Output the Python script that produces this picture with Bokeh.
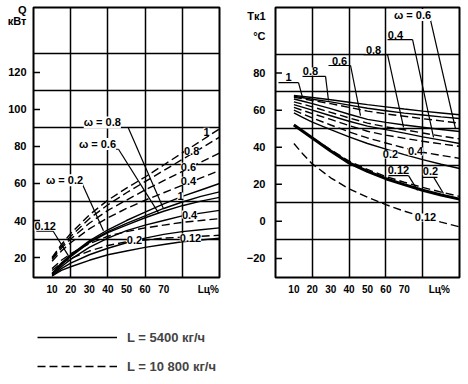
from bokeh.plotting import figure
from bokeh.models import FixedTicker, ColumnDataSource, LabelSet, Legend
from bokeh.layouts import column, row
from bokeh.core.properties import value
from bokeh.embed import file_html
from bokeh.resources import INLINE

FONT = "Liberation Sans"

# ---------------- data ----------------
L_pct = [10, 15, 20, 30, 40, 50, 60, 70, 80, 90, 100]
x_tick_vals = [10, 20, 30, 40, 50, 60, 70]

# Q, kW  (solid: L = 5400 kg/h, dashed: L = 10800 kg/h)
q_dash_1 = [20, 27, 33, 43, 51, 57.5, 63.5, 70, 76.5, 83, 89.5]
q_dash_08 = [19.5, 26, 31.5, 41, 48.5, 55, 61, 67, 73, 79, 85]
q_dash_06 = [19, 25, 30, 38.5, 45.5, 51, 56.5, 61.5, 66.5, 71.5, 76.5]
q_dash_04 = [18, 23.5, 28, 35.5, 41.5, 46.5, 51, 55, 59, 63, 67]
q_dash_02 = [14, 18.5, 22, 27.5, 31.5, 34, 36, 37.5, 39, 40, 41]
q_dash_012 = [13, 17, 19.5, 23.5, 26.5, 28.5, 29.5, 30.5, 31, 31.5, 32]
q_sol_1 = [11.5, 17, 21.5, 29, 35, 40, 44.5, 49, 53, 56.5, 60]
q_sol_08 = [11, 16.5, 21, 28.5, 34, 38.5, 42.5, 46.5, 50, 53, 55.5]
q_sol_06 = [11, 16, 20.5, 28, 33.5, 37.5, 41.5, 45, 48, 50.5, 52.5]
q_sol_04 = [10.5, 15, 19, 25.5, 30.5, 34.5, 37.5, 40, 42.5, 44, 45.5]
q_sol_02 = [10, 14, 17, 21.5, 25, 28, 30.5, 32.5, 34, 35, 36]
q_sol_012 = [10, 13, 15, 18.5, 21.5, 23.5, 25.5, 27, 28.5, 29.5, 30.5]
q_ticks = [20, 40, 60, 80, 100, 120]
q_grid = [30, 50, 70, 90, 110, 130]
q_title = {154: "Q", 148: "кВт"}

# T_k1, deg C
t_sol_1 = [68, 67.4, 66.8, 65.6, 64.3, 63, 61.8, 60.6, 59.5, 58.5, 57.5]
t_sol_08 = [67.5, 66.7, 65.9, 64.5, 62.7, 61, 59.7, 58.4, 57.4, 56.4, 55.5]
t_sol_06 = [66, 64.8, 63.5, 60.8, 57.8, 55, 53.4, 52, 50.8, 49.6, 48.5]
t_sol_04 = [63, 61.5, 60, 57, 54, 51.4, 49.5, 47.6, 45.6, 43.8, 42]
t_sol_02 = [58.5, 56, 53.5, 49.5, 45.6, 42, 39, 36, 33.3, 30.8, 28.5]
t_sol_012 = [52, 48.5, 45, 38, 31.5, 27, 23, 19.8, 16.8, 14.2, 12]
t_dash_1 = [67, 66.1, 65.2, 63.5, 61.5, 59.5, 58, 56.7, 55.4, 54.2, 53]
t_dash_08 = [64.5, 63.2, 61.8, 58.8, 55.8, 53, 51, 49.4, 47.7, 46, 44.5]
t_dash_06 = [61.5, 59.8, 58.1, 55, 51.7, 48.6, 46.5, 44.8, 43.2, 41.8, 40.5]
t_dash_04 = [60, 57.8, 55.8, 52, 48.3, 45, 42.3, 39.6, 37.3, 35.6, 34]
t_dash_02 = [52, 48.6, 45.2, 38.6, 32.5, 28, 24.2, 21.1, 18.3, 15.8, 13.5]
t_dash_012 = [42, 36.2, 31, 23.5, 17.5, 13, 9, 5.5, 2.4, -0.4, -3]
t_ticks = [-20, 0, 20, 40, 60, 80]
t_grid = [-10, 10, 30, 50, 70, 90]
t_title = {111: "Tк1", 100: "°C"}

legend_solid = "L = 5400 кг/ч"
legend_dash = "L = 10 800 кг/ч"

DASH = "8 4"
LW = 1.4


def style(p, yticks, ygrid, titles, lpos):
    p.outline_line_color = "black"
    p.outline_line_width = 2
    p.background_fill_color = "white"
    p.border_fill_color = "white"
    p.xgrid.ticker = FixedTicker(ticks=[20, 40, 60, 80])
    p.ygrid.ticker = FixedTicker(ticks=ygrid)
    for g in (p.xgrid, p.ygrid):
        g.grid_line_color = "black"
        g.grid_line_width = 1.5
        g.grid_line_alpha = 1
    p.xaxis.ticker = FixedTicker(ticks=x_tick_vals + [lpos])
    p.xaxis.major_label_overrides = {lpos: "Lц%"}
    p.yaxis.ticker = FixedTicker(ticks=yticks + list(titles.keys()))
    p.yaxis.major_label_overrides = dict(titles)
    for ax in (p.xaxis, p.yaxis):
        ax.axis_line_color = None
        ax.minor_tick_line_color = None
        ax.major_tick_line_color = None
        ax.major_tick_in = 0
        ax.major_tick_out = 0
        ax.major_label_text_font = FONT
        ax.major_label_text_font_style = "bold"
        ax.major_label_text_color = "black"
    p.xaxis.major_label_text_font_size = "10px"
    p.xaxis.major_label_standoff = 6
    p.yaxis.major_label_text_font_size = "11px"
    # short inward tick marks at the labelled values
    n = len(yticks)
    p.segment(x0=[0] * n, y0=yticks, x1=[3.5] * n, y1=yticks,
              line_color="black", line_width=1.5)


def add_labels(p, xs, ys, texts, bg=True, size="11px"):
    src = ColumnDataSource(dict(x=xs, y=ys, t=texts))
    p.add_layout(LabelSet(x="x", y="y", text="t", source=src,
                          text_align="center", text_baseline="middle",
                          text_font=value(FONT), text_font_size=value(size),
                          text_font_style="bold", text_color="black",
                          background_fill_color="white" if bg else None))


def add_segments(p, x0, y0, x1, y1):
    p.segment(x0=x0, y0=y0, x1=x1, y1=y1, line_color="black", line_width=1.2)


# ---------------- left: Q ----------------
p1 = figure(width=238, height=304, x_range=(0, 100), y_range=(9.2, 155.1),
            output_backend="svg", toolbar_location=None,
            min_border_left=33, min_border_right=19, min_border_top=7, min_border_bottom=27)
style(p1, q_ticks, q_grid, q_title, 94)
p1.yaxis.major_label_standoff = 7

for ys in (q_sol_1, q_sol_08, q_sol_06, q_sol_04, q_sol_02, q_sol_012):
    p1.line(L_pct, ys, line_color="black", line_width=LW)
for ys in (q_dash_1, q_dash_08, q_dash_06, q_dash_04, q_dash_02, q_dash_012):
    p1.line(L_pct, ys, line_color="black", line_width=LW, line_dash=DASH)

# underlines + leaders
add_segments(p1,
             [33.3, 45.7, 14.5, 26.3, 1.5, 10.6, 51.0],
             [78.5, 78.5, 59.6, 59.6, 34.2, 34.2, 90.0],
             [45.7, 67.2, 26.3, 37.6, 10.6, 18.8, 69.9],
             [78.5, 44.1, 59.6, 34.4, 34.2, 20.9, 46.3])
add_labels(p1, [37.0, 34.4, 16.7, 6.3], [93.0, 81.4, 61.8, 36.8],
           ["ω = 0.8", "ω = 0.6", "ω = 0.2", "0.12"])
add_labels(p1, [93.0, 85.0, 83.3, 83.3, 79.0, 83.9, 54.3, 84.4],
           [88.0, 77.5, 69.0, 61.5, 53.0, 43.2, 29.5, 30.8],
           ["1", "0.8", "0.6", "0.4", "1", "0.4", "0.2", "0.12"])

# ---------------- right: T_k1 ----------------
p2 = figure(width=230, height=304, x_range=(0, 100), y_range=(-30.3, 115.4),
            output_backend="svg", toolbar_location=None,
            min_border_left=37, min_border_right=9, min_border_top=7, min_border_bottom=27)
style(p2, t_ticks, t_grid, t_title, 89)
p2.yaxis.major_label_standoff = 10

for ys in (t_sol_1, t_sol_08, t_sol_06, t_sol_04, t_sol_02):
    p2.line(L_pct, ys, line_color="black", line_width=LW)
p2.line(L_pct, t_sol_012, line_color="black", line_width=3)
for ys in (t_dash_1, t_dash_08, t_dash_06, t_dash_04, t_dash_02, t_dash_012):
    p2.line(L_pct, ys, line_color="black", line_width=LW, line_dash=DASH)

add_segments(p2,
             [1.6, 12.5, 14.7, 27.2, 28.8, 40.8, 47.8, 60.9, 60.9, 74.5, 73.4, 84.2, 61.4, 72.3, 79.9, 86.0],
             [74.9, 74.9, 78.2, 78.2, 84.1, 84.1, 90.0, 90.0, 98.1, 98.1, 108.9, 108.9, 24.7, 24.7, 23.7, 23.7],
             [12.5, 14.7, 27.2, 28.8, 40.8, 46.2, 60.9, 69.6, 74.5, 85.9, 84.2, 97.8, 72.3, 77.2, 88.0, 91.3],
             [74.9, 66.8, 78.2, 65.2, 84.1, 57.1, 90.0, 50.7, 98.1, 45.3, 108.9, 50.1, 24.7, 16.7, 23.7, 15.0])
add_labels(p2, [7.1, 19.0, 34.8, 53.3, 65.2, 74.5, 66.8, 84.2],
           [77.8, 80.9, 86.5, 92.4, 100.5, 111.3, 27.6, 27.1],
           ["1", "0.8", "0.6", "0.8", "0.4", "ω = 0.6", "0.12", "0.2"])
add_labels(p2, [62.5, 76.1, 81.5], [36.1, 37.7, 2.1], ["0.2", "0.4", "0.12"])

# ---------------- legend ----------------
p3 = figure(width=468, height=80, x_range=(0, 1), y_range=(0, 1),
            output_backend="svg", toolbar_location=None,
            x_axis_location=None, y_axis_location=None, min_border=0)
p3.grid.visible = False
p3.outline_line_color = None
# renderers kept outside the visible range: only their legend samples show
r1 = p3.line([-5, -4], [-5, -4], line_color="black", line_width=LW)
r2 = p3.line([-5, -4], [-5, -4], line_color="black", line_width=LW, line_dash=DASH)
leg = Legend(items=[(legend_solid, [r1]), (legend_dash, [r2])], location=(37, 8),
             glyph_width=80, glyph_height=20, label_height=20, label_standoff=10, spacing=9,
             padding=0, margin=0, border_line_color=None, background_fill_alpha=0,
             label_text_font=FONT, label_text_font_size="13px", label_text_font_style="bold")
p3.add_layout(leg)

layout = column(row(p1, p2), p3)
open("out.html", "w").write(file_html(layout, INLINE))
